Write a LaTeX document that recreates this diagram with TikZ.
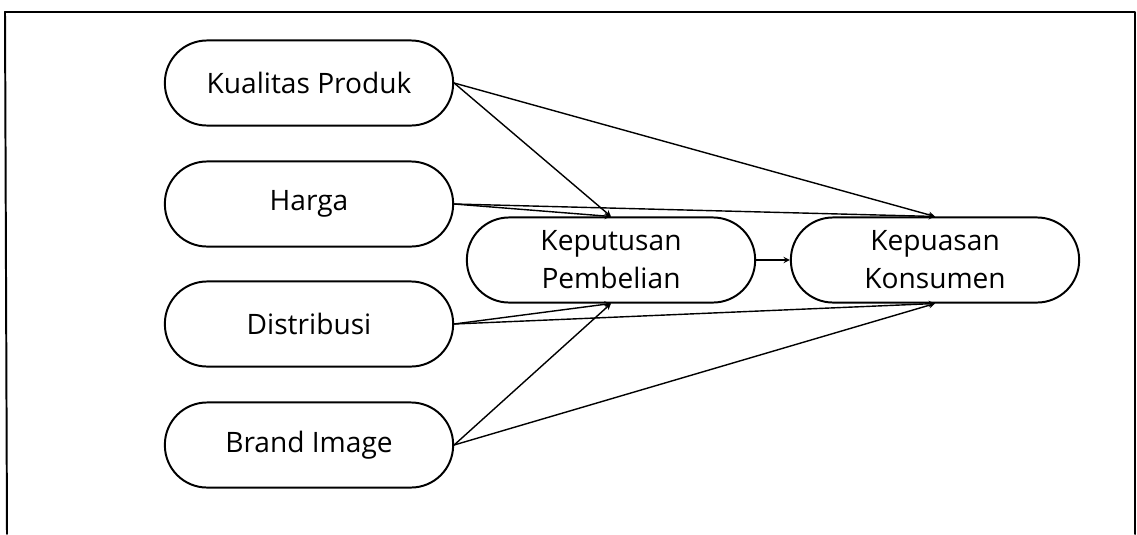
\documentclass[tikz,border=0pt]{standalone}
\usepackage{fontspec}
\setmainfont{Open Sans}
\begin{document}
\begin{tikzpicture}[x=0.025cm,y=-0.025cm,line join=round,line cap=round,>=stealth,
  var/.style={draw,line width=1.4pt,rounded corners=30pt,minimum width=205pt,minimum height=60.5pt,
    align=center,inner sep=0pt,font=\fontsize{20}{27}\selectfont},
  link/.style={->,line width=1pt}]
\useasboundingbox (0,0) rectangle (1137,534);
\draw[line width=1.4pt] (7,534) -- (5,12) -- (1135,12) -- (1135,534);
\path
(309,83) node[var] (KP) {Kualitas Produk}
(309,204) node[var] (H) {Harga}
(309,324) node[var] (D) {Distribusi}
(309,445) node[var] (BI) {Brand Image}
(611,260) node[var] (KeP) {Keputusan\\Pembelian}
(935,260) node[var] (KK) {Kepuasan\\Konsumen}
;
\draw[link] (KP.east) -- (KeP.north);
\draw[link] (KP.east) -- (KK.north);
\draw[link] (H.east) -- (KeP.north);
\draw[link] (H.east) -- (KK.north);
\draw[link] (D.east) -- (KeP.south);
\draw[link] (D.east) -- (KK.south);
\draw[link] (BI.east) -- (KeP.south);
\draw[link] (BI.east) -- (KK.south);
\draw[link] (KeP) -- (KK);
\end{tikzpicture}
\end{document}
